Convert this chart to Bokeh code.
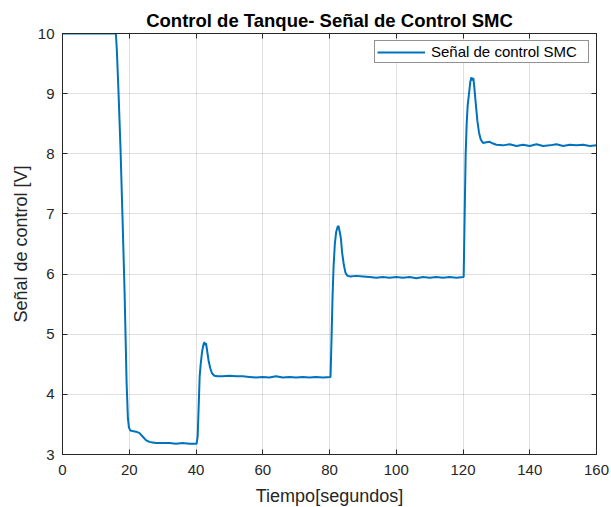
from bokeh.plotting import figure
from bokeh.models import (LinearAxis, Range1d, FixedTicker, Legend, LegendItem,
                          ColumnDataSource)
from bokeh.embed import file_html
from bokeh.resources import INLINE

# ---- data ----
tiempo = [0, 16.0, 16.3, 16.8, 17.4, 18.0, 18.6, 19.2, 19.6, 19.9, 20.3, 21.0, 22.0, 23.0,
          24.0, 25.0, 26.0, 27.0, 28.0, 30.0, 32.0, 34.0, 36.0, 38.0, 40.2, 40.5, 40.8,
          41.1, 41.4, 41.8, 42.2, 42.5, 42.7, 43.0, 43.4, 43.8, 44.3, 44.8, 45.5, 46.5,
          48, 50, 52, 54, 56, 58, 60, 62, 64, 66, 68, 70, 72, 74, 76, 78, 80.3, 80.6,
          80.9, 81.2, 81.6, 82.0, 82.4, 82.7, 83.0, 83.4, 83.8, 84.3, 84.8, 85.4, 86.3,
          88, 90, 92, 94, 96, 98, 100, 102, 104, 106, 108, 110, 112, 114, 116, 118,
          120.2, 120.5, 120.8, 121.1, 121.4, 121.8, 122.2, 122.5, 122.8, 123.1, 123.4,
          123.8, 124.3, 124.8, 125.3, 126.0, 127, 128, 129, 130, 132, 134, 136, 138,
          140, 142, 144, 146, 148, 150, 152, 154, 156, 158, 160]
senal = [10, 10, 9.7, 9.0, 8.05, 6.9, 5.7, 4.2, 3.6, 3.45, 3.4, 3.39, 3.38, 3.36,
         3.30, 3.24, 3.21, 3.20, 3.19, 3.19, 3.19, 3.18, 3.19, 3.18, 3.18, 3.30, 3.80,
         4.30, 4.50, 4.70, 4.82, 4.87, 4.82, 4.85, 4.70, 4.55, 4.43, 4.35, 4.31, 4.30,
         4.30, 4.31, 4.30, 4.30, 4.29, 4.28, 4.29, 4.28, 4.30, 4.28, 4.29, 4.28, 4.29, 4.28, 4.29, 4.28, 4.29, 4.90,
         5.60, 6.10, 6.50, 6.70, 6.78, 6.80, 6.72, 6.60, 6.35, 6.15, 6.02, 5.97, 5.96,
         5.97, 5.96, 5.95, 5.94, 5.95, 5.94, 5.95, 5.94, 5.95, 5.93, 5.95, 5.94, 5.95, 5.94, 5.95, 5.94,
         5.95, 7.00, 8.00, 8.50, 8.80, 9.00, 9.20, 9.27, 9.22, 9.26, 9.10,
         8.85, 8.55, 8.35, 8.24, 8.18, 8.19, 8.20, 8.17, 8.15, 8.14, 8.16, 8.13, 8.15,
         8.13, 8.16, 8.13, 8.14, 8.16, 8.13, 8.15, 8.14, 8.15, 8.13, 8.14]
x_ticks = [0, 20, 40, 60, 80, 100, 120, 140, 160]
y_ticks = [3, 4, 5, 6, 7, 8, 9, 10]

FONT = "Liberation Sans"
DARK = "#262626"

src = ColumnDataSource(data=dict(t=tiempo, v=senal))

p = figure(frame_width=534, frame_height=421,
           x_range=Range1d(0, 160), y_range=Range1d(3, 10),
           output_backend="svg", toolbar_location=None,
           min_border_left=62, min_border_right=15, min_border_top=33, min_border_bottom=53,
           background_fill_color="white", border_fill_color="white")

p.title.text = "Control de Tanque- Señal de Control SMC"
p.title.align = "center"
p.title.text_font = FONT
p.title.text_font_size = "18.5px"
p.title.text_font_style = "bold"
p.title.text_color = "#000000"
p.title.standoff = 5

p.outline_line_color = DARK
p.outline_line_width = 1

for ax in (p.xaxis[0], p.yaxis[0]):
    ax.major_tick_in = 5
    ax.major_tick_out = 0
    ax.minor_tick_line_color = None
    ax.axis_line_color = DARK
    ax.major_tick_line_color = DARK
    ax.major_label_text_font = FONT
    ax.major_label_text_font_size = "15px"
    ax.major_label_text_color = DARK
    ax.axis_label_text_font = FONT
    ax.axis_label_text_font_size = "18px"
    ax.axis_label_text_font_style = "normal"
    ax.axis_label_text_color = DARK

p.xaxis.ticker = FixedTicker(ticks=x_ticks)
p.yaxis.ticker = FixedTicker(ticks=y_ticks)
p.xaxis.axis_label = "Tiempo[segundos]"
p.yaxis.axis_label = "Señal de control [V]"
p.xaxis.major_label_standoff = 10
p.xaxis.axis_label_standoff = 8
p.yaxis.major_label_standoff = 8
p.yaxis.axis_label_standoff = 4

# box ticks on top and right (no labels)
top_ax = LinearAxis(ticker=FixedTicker(ticks=x_ticks), major_tick_in=5, major_tick_out=0,
                    minor_tick_line_color=None, axis_line_color=DARK,
                    major_tick_line_color=DARK, major_label_text_font_size="0px",
                    major_label_text_color=None, major_label_standoff=0)
right_ax = LinearAxis(ticker=FixedTicker(ticks=y_ticks), major_tick_in=5, major_tick_out=0,
                      minor_tick_line_color=None, axis_line_color=DARK,
                      major_tick_line_color=DARK, major_label_text_font_size="0px",
                      major_label_text_color=None, major_label_standoff=0)
p.add_layout(top_ax, "above")
p.add_layout(right_ax, "right")

p.xgrid.ticker = FixedTicker(ticks=x_ticks)
p.ygrid.ticker = FixedTicker(ticks=y_ticks)
p.grid.grid_line_color = DARK
p.grid.grid_line_alpha = 0.15
p.grid.grid_line_width = 1

r = p.line(x="t", y="v", source=src, line_color="#0072BD", line_width=2)

legend = Legend(items=[LegendItem(label="Señal de control SMC", renderers=[r])],
                location=(312, 391))
legend.label_text_font = FONT
legend.label_text_font_size = "15px"
legend.label_text_color = "#000000"
legend.glyph_width = 48
legend.glyph_height = 14
legend.label_height = 14
legend.label_width = 155
legend.label_standoff = 6
legend.padding = 2
legend.spacing = 0
legend.margin = 0
legend.border_line_color = DARK
legend.border_line_width = 1
legend.background_fill_color = "white"
legend.background_fill_alpha = 1
p.add_layout(legend)

open("out.html", "w").write(file_html(p, INLINE))
